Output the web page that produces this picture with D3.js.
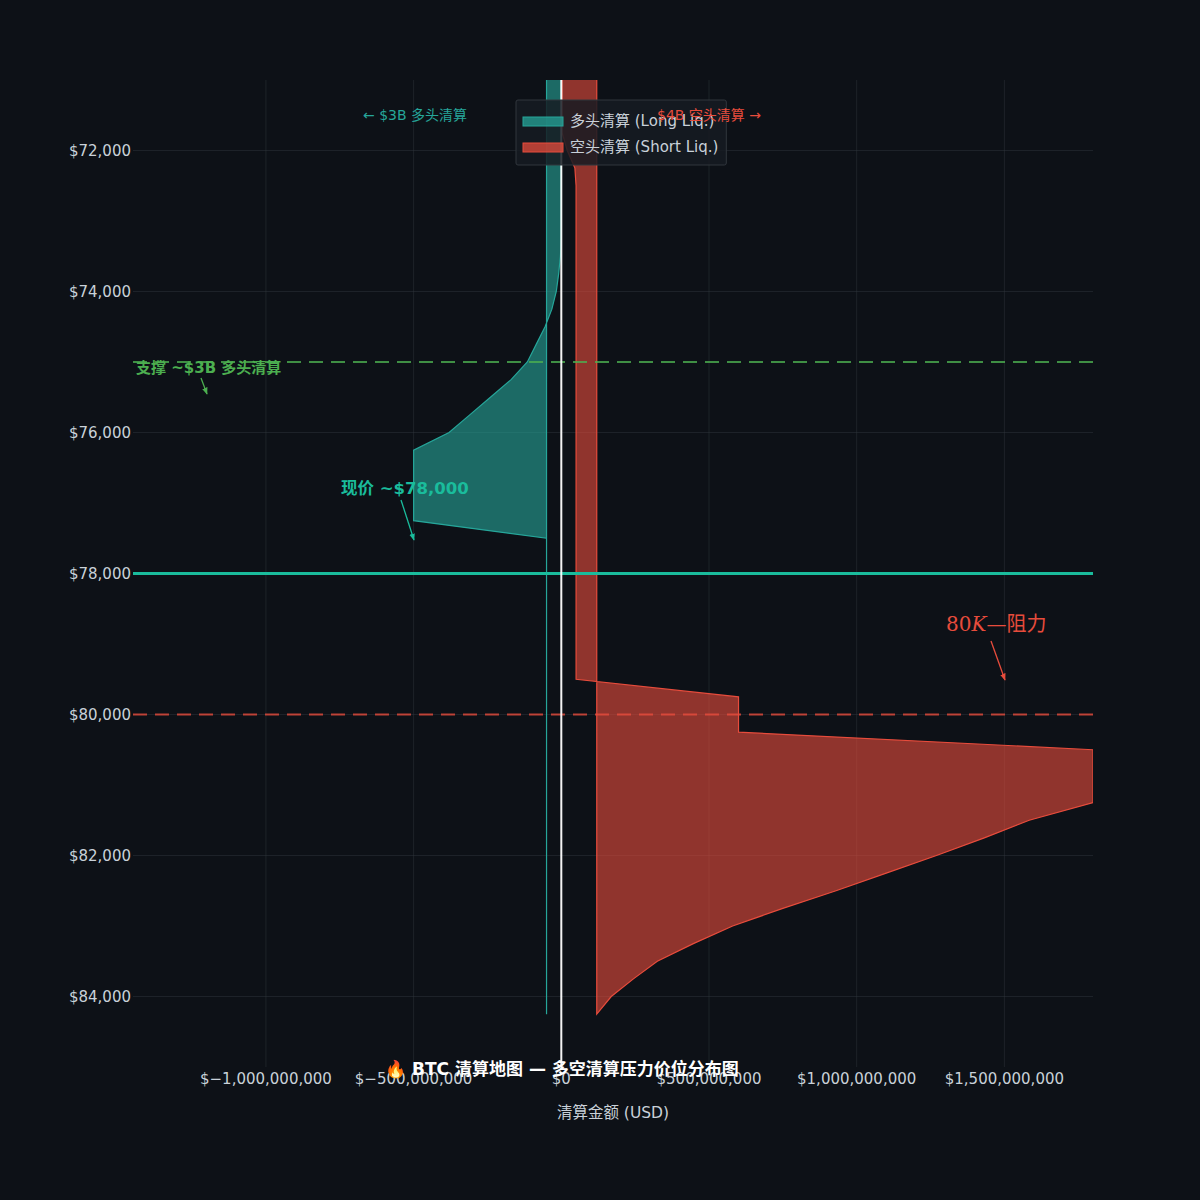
<!DOCTYPE html>
<html>
<head>
<meta charset="utf-8">
<script src="https://cdn.jsdelivr.net/npm/d3@7"></script>
<style>
  html, body { margin: 0; padding: 0; background: #0d1117; }
  svg { display: block; }
  text { font-family: "DejaVu Sans", "Noto Sans CJK SC", sans-serif; }
</style>
</head>
<body>
<svg id="chart" width="1200" height="1200"></svg>
<script>
// ---------------- data ----------------
// Long liquidations (plotted to the left of zero)
const longPrices = [70000, 73250, 73500, 73750, 74000, 74250, 74500, 74750, 75000, 75250, 75500, 75750, 76000, 76250, 77250, 77500, 84250];
const longValues = [0, 0, 3e6, 9e6, 17e6, 32e6, 55e6, 85e6, 115e6, 170e6, 240e6, 310e6, 380e6, 500e6, 500e6, 50e6, 50e6];
const longBase = 50e6;

// Short liquidations (plotted to the right of zero)
const shortPrices = [70000, 71750, 72000, 72250, 72500, 79500, 79750, 80250, 80500, 81250, 81500, 81750, 82000, 82250, 82500, 82750, 83000, 83250, 83500, 83750, 84000, 84250];
const shortValues = [3e6, 3e6, 20e6, 46e6, 50e6, 50e6, 600e6, 600e6, 1.8e9, 1.8e9, 1.584e9, 1.432e9, 1.27e9, 1.10e9, 0.93e9, 0.75e9, 0.58e9, 0.447e9, 0.325e9, 0.244e9, 0.169e9, 0.12e9];
const shortBase = 120e6;

// reference levels
const supportPrice = 75000;
const currentPrice = 78000;
const resistancePrice = 80000;

// ticks
const xTicks = [-1e9, -5e8, 0, 5e8, 1e9, 1.5e9];
const yTicks = [72000, 74000, 76000, 78000, 80000, 82000, 84000];

// texts
const legendLabels = ["多头清算 (Long Liq.)", "空头清算 (Short Liq.)"];
const titleText = "🔥 BTC 清算地图 — 多空清算压力价位分布图";
const xLabel = "清算金额 (USD)";
const longNote = "← $3B 多头清算";
const shortNote = "$4B 空头清算 →";
const supportNote = "支撑 ~$3B 多头清算";
const priceNote = "现价 ~$78,000";

// ---------------- chart ----------------
const svg = d3.select("#chart");
const W = 1200, H = 1200;
const L = 133, R = 1093, T = 80, B = 1067;

svg.append("rect").attr("width", W).attr("height", H).attr("fill", "#0d1117");

const x = d3.scaleLinear().domain([-1.45e9, 1.8e9]).range([L, R]);
const y = d3.scaleLinear().domain([71000, 85000]).range([T, B]);

const cTeal = "#26a69a", cRed = "#e74c3c", cGreen = "#4caf50", cNow = "#1abc9c";
const cText = "#c9d1d9";

svg.append("defs").append("clipPath").attr("id", "clip")
  .append("rect").attr("x", L).attr("y", T).attr("width", R - L).attr("height", B - T);

// grid
const grid = svg.append("g");
grid.selectAll(".gx").data(xTicks).join("line")
  .attr("x1", d => x(d)).attr("x2", d => x(d)).attr("y1", T).attr("y2", B)
  .attr("stroke", "#30363d").attr("stroke-opacity", 0.6).attr("stroke-width", 0.8);
grid.selectAll(".gy").data(yTicks).join("line")
  .attr("x1", L).attr("x2", R).attr("y1", d => y(d)).attr("y2", d => y(d))
  .attr("stroke", "#30363d").attr("stroke-opacity", 0.6).attr("stroke-width", 0.8);

const plot = svg.append("g").attr("clip-path", "url(#clip)");

// long area
const longData = longPrices.map((p, i) => ({ p, v: longValues[i] }));
const longArea = d3.area().curve(d3.curveLinear)
  .y(d => y(d.p)).x0(() => x(-longBase)).x1(d => x(-d.v));
plot.append("path").datum(longData).attr("d", longArea)
  .attr("fill", cTeal).attr("fill-opacity", 0.6)
  .attr("stroke", cTeal).attr("stroke-width", 1.2);

// short area
const shortData = shortPrices.map((p, i) => ({ p, v: shortValues[i] }));
const shortArea = d3.area().curve(d3.curveLinear)
  .y(d => y(d.p)).x0(() => x(shortBase)).x1(d => x(d.v));
plot.append("path").datum(shortData).attr("d", shortArea)
  .attr("fill", cRed).attr("fill-opacity", 0.6)
  .attr("stroke", cRed).attr("stroke-width", 1.2);

// reference lines
plot.append("line").attr("x1", L).attr("x2", R).attr("y1", y(supportPrice)).attr("y2", y(supportPrice))
  .attr("stroke", cGreen).attr("stroke-width", 2).attr("stroke-dasharray", "14,8").attr("stroke-opacity", 0.8);
plot.append("line").attr("x1", L).attr("x2", R).attr("y1", y(resistancePrice)).attr("y2", y(resistancePrice))
  .attr("stroke", cRed).attr("stroke-width", 2).attr("stroke-dasharray", "14,8").attr("stroke-opacity", 0.8);
plot.append("line").attr("x1", L).attr("x2", R).attr("y1", y(currentPrice)).attr("y2", y(currentPrice))
  .attr("stroke", cNow).attr("stroke-width", 3);
plot.append("line").attr("x1", x(0)).attr("x2", x(0)).attr("y1", T).attr("y2", B)
  .attr("stroke", "#ffffff").attr("stroke-width", 2).attr("stroke-opacity", 0.95);

// axes tick labels
svg.append("g").selectAll("text").data(yTicks).join("text")
  .attr("x", L - 2).attr("y", d => y(d)).attr("dy", "0.35em")
  .attr("text-anchor", "end").attr("fill", cText).attr("font-size", 15)
  .text(d => "$" + d3.format(",")(d));
svg.append("g").selectAll("text").data(xTicks).join("text")
  .attr("x", d => x(d)).attr("y", 1084)
  .attr("text-anchor", "middle").attr("fill", cText).attr("font-size", 15)
  .text(d => "$" + d3.format(",")(d));

svg.append("text").attr("x", (L + R) / 2).attr("y", 1118).attr("text-anchor", "middle")
  .attr("fill", cText).attr("font-size", 15.5).text(xLabel);

// arrow marker
const defs = svg.select("defs");
function marker(id, color) {
  defs.append("marker").attr("id", id).attr("viewBox", "0 0 10 10")
    .attr("refX", 9).attr("refY", 5).attr("markerWidth", 7).attr("markerHeight", 7)
    .attr("markerUnits", "userSpaceOnUse").attr("orient", "auto")
    .append("path").attr("d", "M0,1 L10,5 L0,9 Z").attr("fill", color);
}
marker("arG", cGreen); marker("arT", cNow); marker("arR", cRed);

// annotations
svg.append("text").attr("x", 136).attr("y", 373).attr("fill", cGreen)
  .attr("font-size", 15).attr("font-weight", "bold").text(supportNote);
svg.append("line").attr("x1", 201).attr("y1", 378).attr("x2", 207).attr("y2", 394)
  .attr("stroke", cGreen).attr("stroke-width", 1.3).attr("marker-end", "url(#arG)");

svg.append("text").attr("x", 341).attr("y", 494).attr("fill", cNow)
  .attr("font-size", 16.5).attr("font-weight", "bold").text(priceNote);
svg.append("line").attr("x1", 401).attr("y1", 500).attr("x2", 414).attr("y2", 540)
  .attr("stroke", cNow).attr("stroke-width", 1.3).attr("marker-end", "url(#arT)");

const res = svg.append("text").attr("x", 946).attr("y", 631).attr("fill", cRed).attr("font-size", 20);
res.append("tspan").attr("font-family", "DejaVu Serif").text("80");
res.append("tspan").attr("font-family", "DejaVu Serif").attr("font-style", "italic").text("K");
res.append("tspan").attr("font-family", "DejaVu Serif").text("—");
res.append("tspan").attr("font-family", "Noto Sans CJK SC").text("阻力");
svg.append("line").attr("x1", 991).attr("y1", 641).attr("x2", 1005).attr("y2", 680)
  .attr("stroke", cRed).attr("stroke-width", 1.3).attr("marker-end", "url(#arR)");

// legend
const lg = svg.append("g");
const lgBox = lg.append("rect").attr("x", 516).attr("y", 100).attr("height", 65)
  .attr("fill", "#161b22").attr("fill-opacity", 0.85).attr("stroke", "#30363d").attr("rx", 2);
const lgColors = [cTeal, cRed];
let maxW = 0;
legendLabels.forEach((lab, i) => {
  const yy = 121 + i * 26;
  lg.append("rect").attr("x", 523).attr("y", yy - 4).attr("width", 40).attr("height", 9)
    .attr("fill", lgColors[i]).attr("fill-opacity", 0.75).attr("stroke", lgColors[i]);
  const t = lg.append("text").attr("x", 570).attr("y", yy).attr("dy", "0.35em")
    .attr("fill", cText).attr("font-size", 15).text(lab);
  maxW = Math.max(maxW, t.node().getComputedTextLength());
});
lgBox.attr("width", 570 - 516 + maxW + 8);

// top notes
svg.append("text").attr("x", 415).attr("y", 120).attr("text-anchor", "middle")
  .attr("fill", cTeal).attr("font-size", 14).text(longNote);
svg.append("text").attr("x", 709).attr("y", 120).attr("text-anchor", "middle")
  .attr("fill", cRed).attr("font-size", 14).text(shortNote);

// title
svg.append("text").attr("x", 562).attr("y", 1075).attr("text-anchor", "middle")
  .attr("fill", "#ffffff").attr("font-size", 17).attr("font-weight", "bold").text(titleText);
</script>
</body>
</html>
